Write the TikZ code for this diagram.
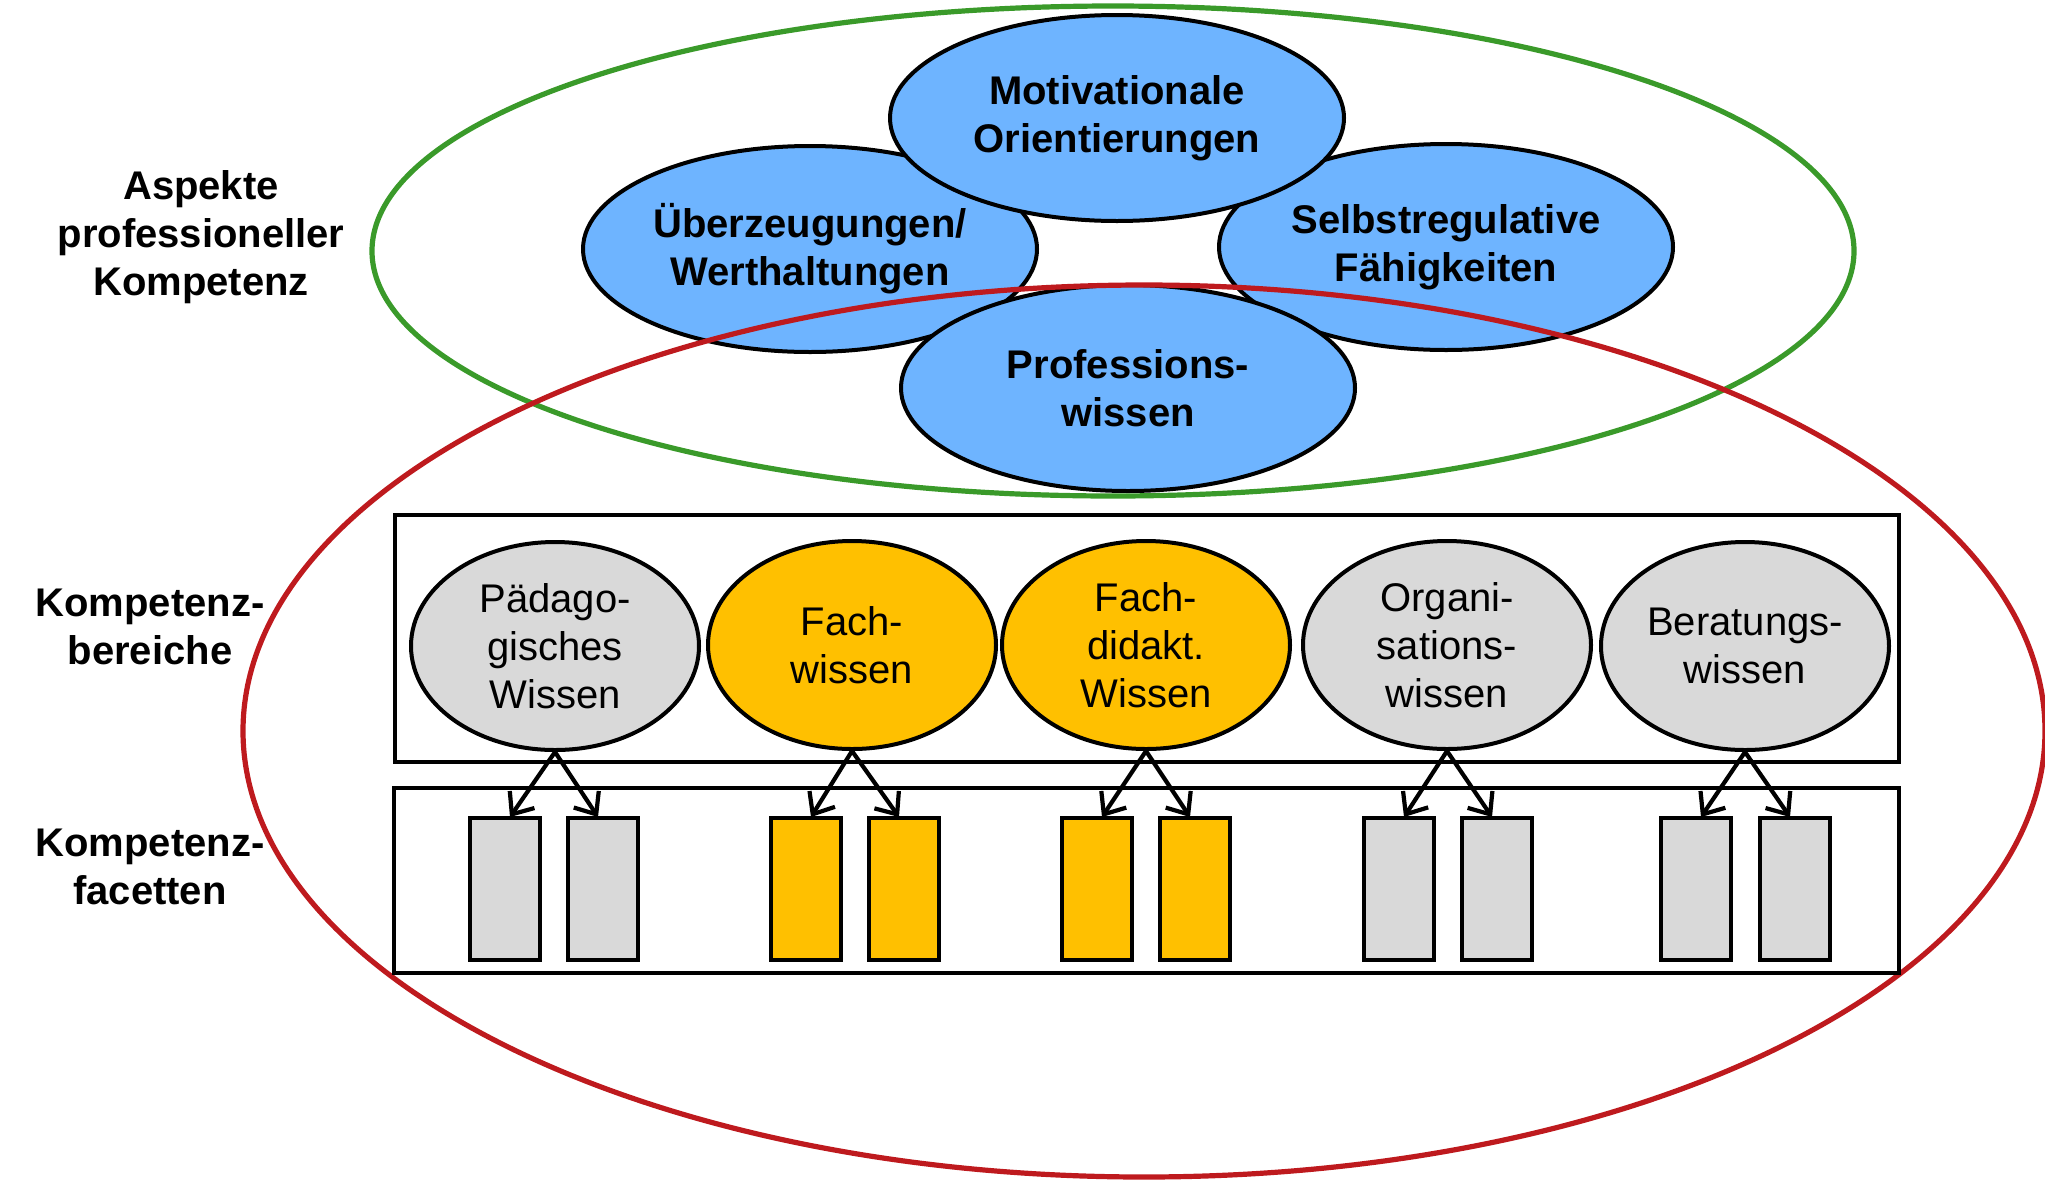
\documentclass[tikz,border=0pt]{standalone}
\usepackage{fontspec}
\setsansfont{Liberation Sans}
\usetikzlibrary{shapes.geometric,arrows.meta}
\definecolor{blueF}{HTML}{6EB4FF}
\definecolor{grayF}{HTML}{D9D9D9}
\definecolor{orangeF}{HTML}{FFC000}
\definecolor{greenL}{HTML}{3A9A2A}
\definecolor{redL}{HTML}{BE1A1E}
\tikzset{
  aspect/.style={ellipse, draw=black, line width=2pt, fill=blueF, minimum width=227pt, minimum height=103pt, inner sep=0pt, align=center, font=\sffamily\bfseries\fontsize{20}{24}\selectfont},
  bereich/.style={ellipse, draw=black, line width=2pt, minimum width=144pt, minimum height=104pt, inner sep=0pt, align=center, font=\sffamily\fontsize{20}{24}\selectfont},
  facette/.style={rectangle, draw=black, line width=2pt, minimum width=35pt, minimum height=71pt, inner sep=0pt},
  sidelabel/.style={align=center, font=\sffamily\bfseries\fontsize{20}{24}\selectfont},
  frame/.style={draw=black, line width=2.2pt},
  arr/.style={line width=2.1pt, -{Straight Barb[length=9pt,width=15pt,line width=2.1pt]}},
}
\begin{document}
\begin{tikzpicture}[x=0.5pt,y=-0.5pt]
\useasboundingbox (0,0) rectangle (2045,1179);
% blue aspect ellipses
\node[aspect] (ueb) at (810,249) {Überzeugungen/\\Werthaltungen};
\node[aspect] (sel) at (1446,247) {Selbstregulative\\Fähigkeiten};
\node[aspect] (mot) at (1117,118) {Motivationale\\Orientierungen};
\node[aspect] (pro) at (1128,388) {Professions-\\wissen};
% big ellipses
\draw[greenL, line width=2.6pt] (1113,251) ellipse [x radius=741, y radius=245];
\draw[redL, line width=2.6pt] (1144,731) ellipse [x radius=901, y radius=446];
% frames
\node[frame, inner sep=0pt, minimum width=752pt, minimum height=123.5pt] (box1) at (1147,638.5) {};
\node[frame, inner sep=0pt, minimum width=752.5pt, minimum height=92.5pt] (box2) at (1146.5,880.5) {};
% side labels
\node[sidelabel] (lab1) at (201,237) {Aspekte\\professioneller\\Kompetenz};
\node[sidelabel] (lab2) at (150,627) {Kompetenz-\\bereiche};
\node[sidelabel] (lab3) at (150,867) {Kompetenz-\\facetten};
% Kompetenzbereiche
\node[bereich, fill=grayF] (b1) at (555,646) {Pädago-\\gisches\\Wissen};
\node[bereich, fill=orangeF] (b2) at (852,645) {Fach-\\wissen};
\node[bereich, fill=orangeF] (b3) at (1146,645) {Fach-\\didakt.\\Wissen};
\node[bereich, fill=grayF] (b4) at (1447,645) {Organi-\\sations-\\wissen};
\node[bereich, fill=grayF] (b5) at (1745,646) {Beratungs-\\wissen};
% facets
\node[facette, fill=grayF] (f1a) at (505,889) {};
\node[facette, fill=grayF] (f1b) at (603,889) {};
\node[facette, fill=orangeF] (f2a) at (806,889) {};
\node[facette, fill=orangeF] (f2b) at (904,889) {};
\node[facette, fill=orangeF] (f3a) at (1097,889) {};
\node[facette, fill=orangeF] (f3b) at (1195,889) {};
\node[facette, fill=grayF] (f4a) at (1399,889) {};
\node[facette, fill=grayF] (f4b) at (1497,889) {};
\node[facette, fill=grayF] (f5a) at (1696,889) {};
\node[facette, fill=grayF] (f5b) at (1795,889) {};
% arrows
\foreach \b/\l/\r in {b1/f1a/f1b, b2/f2a/f2b, b3/f3a/f3b, b4/f4a/f4b, b5/f5a/f5b}{
  \draw[arr] (\b.south) -- ([xshift=2.5pt,yshift=-0.5pt]\l.north);
  \draw[arr] (\b.south) -- ([xshift=-2.5pt,yshift=-0.5pt]\r.north);
}
\end{tikzpicture}
\end{document}
